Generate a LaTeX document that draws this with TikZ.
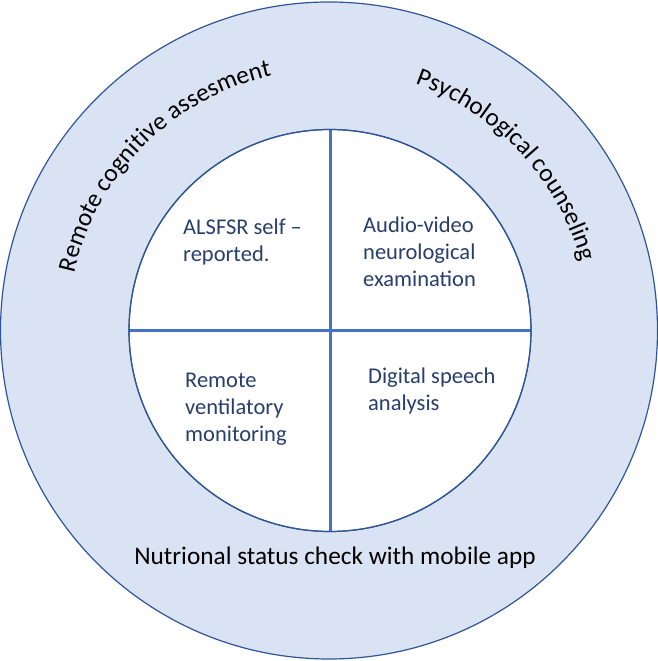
\documentclass[tikz,border=0pt]{standalone}
\usepackage{fontspec}
\setmainfont{Carlito}
\usetikzlibrary{decorations.text}
\definecolor{ringfill}{HTML}{DAE3F3}
\definecolor{ringline}{HTML}{2F5597}
\definecolor{crossline}{HTML}{4472C4}
\definecolor{innertext}{RGB}{40,62,108}
\begin{document}
\begin{tikzpicture}[x=1pt,y=1pt,
  ringcircle/.style={circle, draw=ringline, line width=1.2pt, inner sep=0pt, outer sep=0pt},
  crossbar/.style={draw=crossline, line width=3pt},
  quadtext/.style={anchor=base west, inner sep=0pt, text=innertext, font=\fontsize{22.5}{27}\selectfont},
  ringtext/.style={anchor=base, inner sep=0pt, text=black, font=\fontsize{25.3}{30}\selectfont}]
\useasboundingbox (0,0) rectangle (658,661);
\coordinate (c) at (329,330.5);
\node[ringcircle, fill=ringfill, minimum size=657pt] (outer) at (c) {};
\node[ringcircle, fill=white, minimum size=402pt] (inner) at (330,330.5) {};
\draw[crossbar] (inner.north) -- (inner.south);
\draw[crossbar] (inner.west) -- (inner.east);
\draw[ringline, line width=1.2pt] (inner) circle[radius=201pt];
% quadrant texts
\node[quadtext] (q1) at (183,426) {\begin{tabular}[t]{@{}l@{}}ALSFSR self –\\reported.\end{tabular}};
\node[quadtext] (q2) at (363,428) {\begin{tabular}[t]{@{}l@{}}Audio-video\\neurological\\examination\end{tabular}};
\node[quadtext] (q3) at (185,273) {\begin{tabular}[t]{@{}l@{}}Remote\\ventilatory\\monitoring\end{tabular}};
\node[quadtext] (q4) at (368,277) {\begin{tabular}[t]{@{}l@{}}Digital speech\\analysis\end{tabular}};
% ring texts
\path[decorate, decoration={text along path, text align=center,
  text={|\fontsize{25.3}{30}\selectfont|Remote cognitive assesment}}]
  (c) ++(180:261) arc[start angle=180, end angle=90, radius=261];
\path[decorate, decoration={text along path, text align=center,
  text={|\fontsize{25.3}{30}\selectfont|Psychological counseling}}]
  (c) ++(88:261) arc[start angle=88, end angle=-2, radius=261];
\node[ringtext] (nut) at (335,96) {Nutrional status check with mobile app};
\end{tikzpicture}
\end{document}
